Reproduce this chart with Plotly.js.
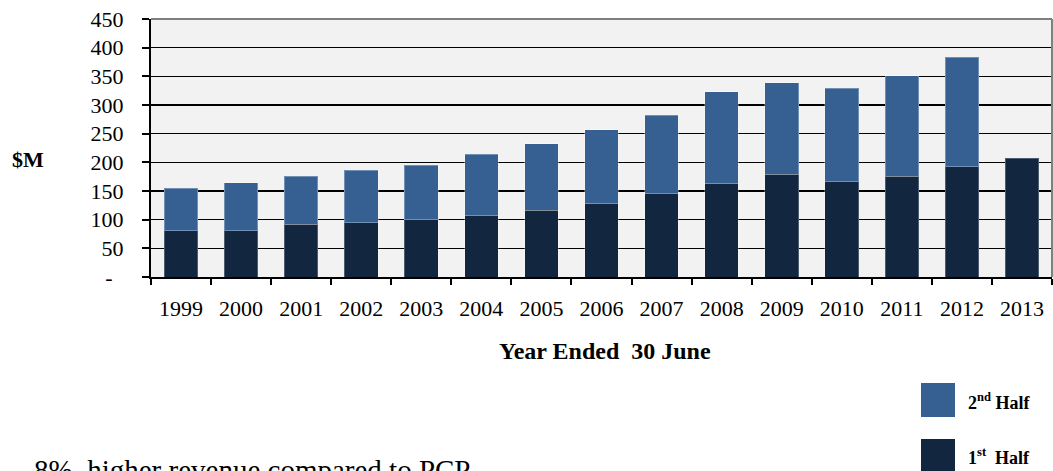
<!DOCTYPE html>
<html>
<head>
<meta charset="utf-8">
<script src="https://cdn.plot.ly/plotly-3.0.1.min.js"></script>
<style>
  html, body { margin: 0; padding: 0; background: #ffffff; }
  #chart { width: 1053px; height: 471px; }
</style>
</head>
<body>
<div id="chart"></div>
<script>
// ---- data ----
const years = ['1999','2000','2001','2002','2003','2004','2005','2006','2007','2008','2009','2010','2011','2012','2013'];
const firstHalf  = [81, 81, 92, 95, 100, 107, 116, 129, 145, 163, 179, 167, 176, 192, 207];
const secondHalf = [74, 83, 84, 91, 95, 107, 116, 128, 137, 160, 160, 162, 175, 191, null];
const yTickVals  = [0, 50, 100, 150, 200, 250, 300, 350, 400, 450];
const yTickText  = ['-', '50', '100', '150', '200', '250', '300', '350', '400', '450'];
const firstName  = '1<sup>st</sup>  Half';
const secondName = '2<sup>nd</sup> Half';

// ---- styles ----
const COL_FIRST  = '#12263f';
const COL_SECOND = '#366092';
const SERIF = '"Liberation Serif", "Times New Roman", serif';
const NB = '\u00a0';

// plot area in pixels: x 151..1052, y 19..277
const L = 151, R = 1052, T = 19, B = 277;
const px = x => (x - L) / (R - L);
const py = y => (B - y) / (B - T);

// label padding (accounting-style number format leaves space on the right)
const yTickLabels = yTickText.map(t => t === '-' ? t + NB.repeat(4) : t + NB.repeat(2));

const traces = [
  {
    type: 'bar', name: firstName, x: years, y: firstHalf,
    marker: { color: COL_FIRST, line: { color: 'rgba(255,255,255,0.25)', width: 1 } },
    showlegend: false, hoverinfo: 'x+y'
  },
  {
    type: 'bar', name: secondName, x: years, y: secondHalf,
    marker: { color: COL_SECOND, line: { color: 'rgba(255,255,255,0.3)', width: 1 } },
    showlegend: false, hoverinfo: 'x+y'
  }
];

const layout = {
  width: 1053, height: 471,
  margin: { l: L, r: 1053 - R, t: T, b: 471 - B, pad: 0 },
  paper_bgcolor: '#ffffff',
  plot_bgcolor: '#f2f2f2',
  barmode: 'stack',
  bargap: 0.44,
  showlegend: false,
  font: { family: SERIF, color: '#000000' },
  xaxis: {
    type: 'category',
    tickson: 'boundaries',
    ticks: 'outside', ticklen: 6, tickwidth: 2, tickcolor: '#000000',
    showline: true, linecolor: '#000000', linewidth: 2,
    showgrid: false, zeroline: false,
    tickfont: { family: SERIF, size: 22, color: '#000000' },
    ticklabelstandoff: 11,
    fixedrange: true
  },
  yaxis: {
    range: [0, 450],
    tickmode: 'array', tickvals: yTickVals, ticktext: yTickLabels,
    ticks: 'outside', ticklen: 7, tickwidth: 2, tickcolor: '#000000',
    showline: true, linecolor: '#000000', linewidth: 2,
    showgrid: true, gridcolor: '#000000', gridwidth: 1.5,
    zeroline: false,
    tickfont: { family: SERIF, size: 22, color: '#000000' },
    ticklabelstandoff: 3,
    fixedrange: true
  },
  shapes: [
    // grey frame on top and right
    { type: 'line', xref: 'paper', yref: 'paper', x0: 0, x1: 1, y0: 1, y1: 1,
      line: { color: '#7f7f7f', width: 2 }, layer: 'above' },
    { type: 'line', xref: 'paper', yref: 'paper', x0: 1, x1: 1, y0: 0, y1: 1,
      line: { color: '#7f7f7f', width: 2 }, layer: 'above' },
    // legend swatches
    { type: 'rect', xref: 'paper', yref: 'paper',
      x0: px(921), x1: px(955), y0: py(383), y1: py(417),
      fillcolor: COL_SECOND, line: { width: 0 } },
    { type: 'rect', xref: 'paper', yref: 'paper',
      x0: px(921), x1: px(955), y0: py(439), y1: py(475),
      fillcolor: COL_FIRST, line: { width: 0 } }
  ],
  annotations: [
    { text: '<b>$M</b>', xref: 'paper', yref: 'paper', x: px(28), y: py(159),
      xanchor: 'center', yanchor: 'middle', showarrow: false,
      font: { family: SERIF, size: 22, color: '#000000' } },
    { text: '<b>Year Ended  30 June</b>', xref: 'paper', yref: 'paper', x: px(605), y: py(351),
      xanchor: 'center', yanchor: 'middle', showarrow: false,
      font: { family: SERIF, size: 24, color: '#000000' } },
    { text: '<b>' + secondName + '</b>', xref: 'paper', yref: 'paper', x: px(966), y: py(401),
      xanchor: 'left', yanchor: 'middle', showarrow: false,
      font: { family: SERIF, size: 18, color: '#000000' } },
    { text: '<b>' + firstName + '</b>', xref: 'paper', yref: 'paper', x: px(966), y: py(456),
      xanchor: 'left', yanchor: 'middle', showarrow: false,
      font: { family: SERIF, size: 18, color: '#000000' } },
    { text: '8%  higher revenue compared to PCP', xref: 'paper', yref: 'paper', x: px(32), y: py(452),
      xanchor: 'left', yanchor: 'top', showarrow: false,
      font: { family: SERIF, size: 29, color: '#000000' } }
  ]
};

Plotly.newPlot('chart', traces, layout, { displayModeBar: false, staticPlot: true });
</script>
</body>
</html>
